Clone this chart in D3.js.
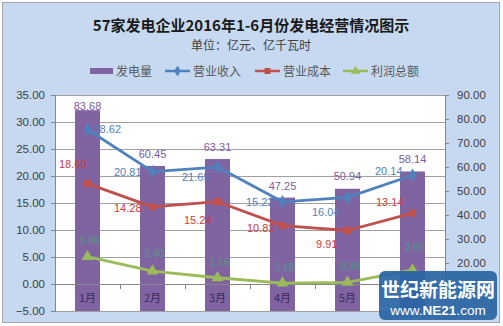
<!DOCTYPE html>
<html><head><meta charset="utf-8">
<script src="https://cdn.jsdelivr.net/npm/d3@7"></script>
<style>
html,body{margin:0;padding:0;background:#fff;}
svg{display:block;}
text{font-family:"Liberation Sans","Noto Sans CJK SC",sans-serif;}
.cjk{font-family:"Noto Sans CJK SC",sans-serif;}
</style></head>
<body>
<svg id="chart" width="503" height="326"></svg>
<script>
const categories = ["1月","2月","3月","4月","5月","6月"];
const generation = [83.68, 60.45, 63.31, 47.25, 50.94, 58.14];   // 发电量 (right axis)
const revenue    = [28.62, 20.81, 21.65, 15.22, 16.04, 20.14];   // 营业收入
const cost       = [18.60, 14.28, 15.24, 10.82, 9.91, 13.14];    // 营业成本
const profit     = [5.06, 2.40, 1.16, 0.18, 0.30, 2.60];         // 利润总额
const leftTicks  = [-5, 0, 5, 10, 15, 20, 25, 30, 35];
const rightTicks = [0, 10, 20, 30, 40, 50, 60, 70, 80, 90];
const seriesNames = ["发电量","营业收入","营业成本","利润总额"];

// label placement (layout only)
const revLabelPos  = [[6,0,"start"],[-11,0,"end"],[-8,10,"end"],[-9,0,"end"],[-8,15,"end"],[-10,-4,"end"]];
const costLabelPos = [[-1,-20,"end"],[-11,1,"end"],[-6,18,"end"],[-8,2,"end"],[-10,14,"end"],[-9,-11,"end"]];
const barLabelDy   = [-4,-12,-12,-12,-13,-12];
const profLabelDy  = [-17,-18,-16,-16,-16,-23];

const svg = d3.select("#chart");
const C = {bar:"#8064a2", rev:"#4f81bd", cost:"#c0504d", prof:"#9bbb59"};

// frame
svg.append("rect").attr("x",2.5).attr("y",2.5).attr("width",497).attr("height",320)
  .attr("fill","#c6d9f0").attr("stroke","#a6a6a6").attr("stroke-width",1);

const L = 55, R = 445, T = 95, B = 311;
const x = d3.scaleBand().domain(categories).range([L,R]).paddingInner(0).paddingOuter(0);
const yL = d3.scaleLinear().domain([-5,35]).range([B,T]);
const yR = d3.scaleLinear().domain([0,90]).range([B,T]);

svg.append("rect").attr("x",L).attr("y",T).attr("width",R-L).attr("height",B-T).attr("fill","#fff");

// grid
svg.append("g").selectAll("line").data(leftTicks).join("line")
  .attr("x1",L).attr("x2",R).attr("y1",d=>yL(d)+0.5).attr("y2",d=>yL(d)+0.5)
  .attr("stroke","#a0a0a0").attr("stroke-width",1);

// axes
const fmt = d3.format(".2f");
const gl = svg.append("g").attr("transform",`translate(${L},0)`)
  .call(d3.axisLeft(yL).tickValues(leftTicks).tickFormat(fmt).tickSize(4).tickPadding(6));
// right-axis labels below 20 are hidden under the watermark in the reference
const gr = svg.append("g").attr("transform",`translate(${R},0)`)
  .call(d3.axisRight(yR).tickValues(rightTicks).tickFormat(d=>d>=20?fmt(d):"").tickSize(4).tickPadding(8));
[gl,gr].forEach(g=>{
  g.select(".domain").attr("stroke","#868686");
  g.selectAll(".tick line").attr("stroke","#868686");
  g.selectAll(".tick text").attr("fill","#404040").style("font-size","11.5px");
});

// bars
svg.append("g").selectAll("rect").data(generation).join("rect")
  .attr("x",(d,i)=>x(categories[i])+x.bandwidth()/2-12.5)
  .attr("width",25)
  .attr("y",d=>yR(d)).attr("height",d=>B-yR(d)).attr("fill",C.bar);

// category axis at 0
const gx = svg.append("g").attr("transform",`translate(0,${yL(0)})`)
  .call(d3.axisBottom(x).tickSize(0).tickFormat(""));
gx.select(".domain").attr("stroke","#868686");
svg.append("g").selectAll("line").data(categories.slice(1)).join("line")
  .attr("x1",d=>x(d)+0.5).attr("x2",d=>x(d)+0.5)
  .attr("y1",yL(0)).attr("y2",yL(0)+5).attr("stroke","#868686");

// category labels inside bars (6月 is hidden under the watermark in the reference)
svg.append("g").selectAll("text").data(categories.slice(0,5)).join("text")
  .attr("class","cjk")
  .attr("x",d=>x(d)+x.bandwidth()/2).attr("y",302)
  .attr("text-anchor","middle").attr("fill","#3a2a55").style("font-size","11px").text(d=>d);

const cx = i => x(categories[i]) + x.bandwidth()/2;
const lineGen = (scale)=>d3.line().x((d,i)=>cx(i)).y(d=>scale(d));

function drawLine(data,color,marker){
  svg.append("path").datum(data).attr("d",lineGen(yL)).attr("fill","none")
    .attr("stroke",color).attr("stroke-width",2.8).attr("stroke-linejoin","round");
  svg.append("g").selectAll("path").data(data).join("path")
    .attr("transform",(d,i)=>`translate(${cx(i)},${yL(d)})`)
    .attr("d",d3.symbol().type(marker).size(marker===d3.symbolTriangle?60:52)())
    .attr("fill",color);
}
drawLine(revenue,C.rev,d3.symbolDiamond);
drawLine(cost,C.cost,d3.symbolSquare);
drawLine(profit,C.prof,d3.symbolTriangle);

// data labels
const lblSize = "11px";
svg.append("g").selectAll("text").data(generation).join("text")
  .attr("x",(d,i)=>cx(i)).attr("y",(d,i)=>yR(d)+barLabelDy[i]+4)
  .attr("text-anchor","middle").attr("fill","#7a5c9e").style("font-size",lblSize)
  .text(d=>d.toFixed(2));
svg.append("g").selectAll("text").data(revenue).join("text")
  .attr("x",(d,i)=>cx(i)+revLabelPos[i][0]).attr("y",(d,i)=>yL(d)+revLabelPos[i][1]+4)
  .attr("text-anchor",(d,i)=>revLabelPos[i][2]).attr("fill","#4f81bd").style("font-size",lblSize)
  .text(d=>d.toFixed(2));
svg.append("g").selectAll("text").data(cost).join("text")
  .attr("x",(d,i)=>cx(i)+costLabelPos[i][0]).attr("y",(d,i)=>yL(d)+costLabelPos[i][1]+4)
  .attr("text-anchor",(d,i)=>costLabelPos[i][2]).attr("fill","#d0383a").style("font-size",lblSize)
  .text(d=>d.toFixed(2));
svg.append("g").selectAll("text").data(profit).join("text")
  .attr("x",(d,i)=>cx(i)+2).attr("y",(d,i)=>yL(d)+profLabelDy[i]+4)
  .attr("text-anchor","middle").attr("fill","#4a9a86").style("font-size","10px")
  .text(d=>d.toFixed(2));

// title
svg.append("text").attr("class","cjk").attr("x",251).attr("y",31).attr("text-anchor","middle")
  .style("font-size","15px").style("font-weight","bold").attr("fill","#1a1a1a")
  .text("57家发电企业2016年1-6月份发电经营情况图示");
svg.append("text").attr("class","cjk").attr("x",251).attr("y",50).attr("text-anchor","middle")
  .style("font-size","12px").attr("fill","#404040").text("单位：亿元、亿千瓦时");

// legend
const leg = svg.append("g").attr("class","cjk");
const legX = [90,165,255,343];
const legColors = [C.bar,C.rev,C.cost,C.prof];
const legSyms = [null,d3.symbolDiamond,d3.symbolSquare,d3.symbolTriangle];
seriesNames.forEach((n,i)=>{
  const g = leg.append("g").attr("transform",`translate(${legX[i]},71)`);
  if(i===0){
    g.append("rect").attr("x",0).attr("y",-3).attr("width",23).attr("height",6).attr("fill",legColors[i]);
  } else {
    g.append("line").attr("x1",0).attr("x2",25).attr("stroke",legColors[i]).attr("stroke-width",2.5);
    g.append("path").attr("transform","translate(12.5,0)")
      .attr("d",d3.symbol().type(legSyms[i]).size(36)()).attr("fill",legColors[i]);
  }
  g.append("text").attr("x",i===0?26:28).attr("y",4.5).style("font-size","12px")
    .attr("fill","#595959").text(n);
});

// watermark
const wm = svg.append("g");
wm.append("rect").attr("x",379).attr("y",271).attr("width",118).attr("height",49).attr("rx",6)
  .attr("fill","#2a64a4").attr("opacity",0.93);
wm.append("text").attr("class","cjk").attr("x",438).attr("y",297).attr("text-anchor","middle")
  .style("font-size","19px").style("font-weight","bold").attr("fill","#fff").text("世纪新能源网");
const wt = wm.append("text").attr("x",438).attr("y",315).attr("text-anchor","middle")
  .style("font-size","13.5px").attr("fill","#fff");
wt.append("tspan").text("www.");
wt.append("tspan").style("font-weight","bold").text("NE21");
wt.append("tspan").text(".com");
</script>
</body></html>
